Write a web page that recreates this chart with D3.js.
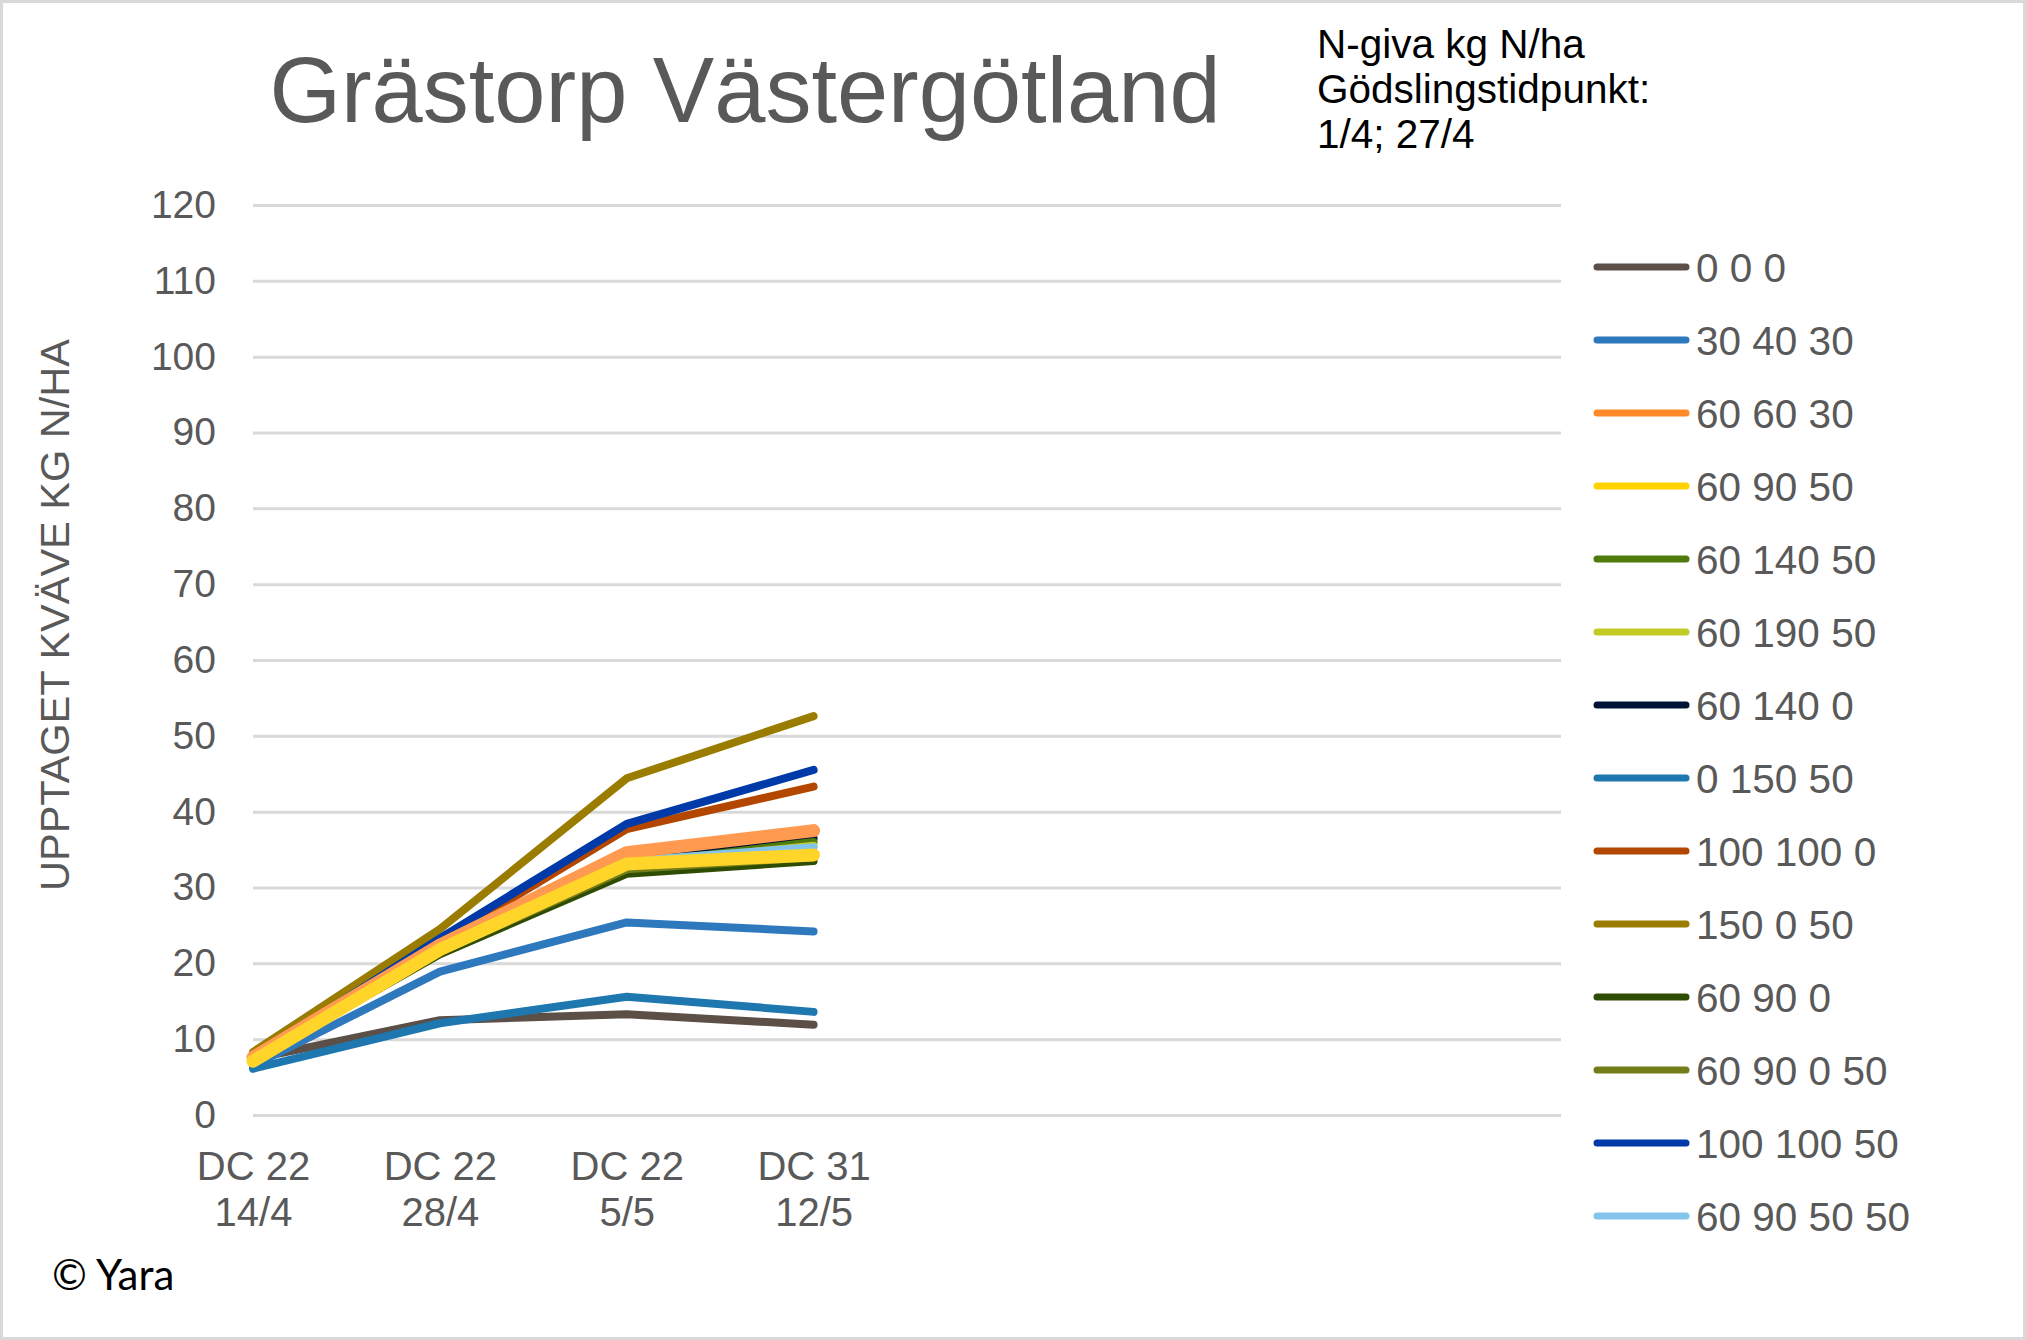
<!DOCTYPE html>
<html>
<head>
<meta charset="utf-8">
<script src="https://cdn.jsdelivr.net/npm/d3@7"></script>
<style>
  body { margin: 0; background: #fff; }
  svg { display: block; font-family: "Liberation Sans", Arial, sans-serif; }
</style>
</head>
<body>
<div id="chart"></div>
<script>
// chart values
var stages = ["DC 22", "DC 22", "DC 22", "DC 31"];
var dates = ["14/4", "28/4", "5/5", "12/5"];
var emptySlots = 4; // x axis keeps 4 unlabeled empty categories on the right
var yTicks = [0, 10, 20, 30, 40, 50, 60, 70, 80, 90, 100, 110, 120];

var seriesNames = ["0 0 0", "30 40 30", "60 60 30", "60 90 50", "60 140 50", "60 190 50",
    "60 140 0", "0 150 50", "100 100 0", "150 0 50", "60 90 0", "60 90 0 50",
    "100 100 50", "60 90 50 50"];
var seriesColors = ["#5B4F47", "#2E78BE", "#FF9A50", "#FFD52A", "#4F7A0C", "#C2CB25",
    "#001235", "#1F77B0", "#B34700", "#9A7D00", "#2E4D03", "#737D19",
    "#0039A8", "#82C4EA"];
var legendColors = ["#5B4F47", "#2E78BE", "#FF8A2A", "#FFD200", "#4F7A0C", "#C2CB25",
    "#001235", "#1F77B0", "#B34700", "#9A7D00", "#2E4D03", "#737D19",
    "#0039A8", "#82C4EA"];

var s000 = [7.4, 12.5, 13.3, 11.9];
var s304030 = [6.5, 18.9, 25.4, 24.2];
var s606030 = [7.6, 22.4, 34.6, 37.5];
var s609050 = [7.1, 21.8, 33.1, 34.3];
var s6014050 = [7.5, 22.1, 33.0, 36.0];
var s6019050 = [7.5, 22.0, 33.0, 35.5];
var s601400 = [7.5, 22.5, 33.4, 36.5];
var s015050 = [6.1, 12.1, 15.6, 13.6];
var s1001000 = [7.6, 22.8, 37.7, 43.3];
var s150050 = [8.3, 24.5, 44.4, 52.6];
var s60900 = [7.2, 21.2, 31.8, 33.5];
var s6090050 = [7.2, 21.5, 32.4, 34.0];
var s10010050 = [7.5, 23.3, 38.4, 45.5];
var s60905050 = [7.5, 22.0, 33.5, 35.3];

var seriesValues = [s000, s304030, s606030, s609050, s6014050, s6019050, s601400,
    s015050, s1001000, s150050, s60900, s6090050, s10010050, s60905050];

// page geometry
var svgWidth = 2026;
var svgHeight = 1340;
var plotLeft = 253;
var plotRight = 1561;
var plotTop = 205;
var plotBottom = 1115;

var svg = d3.select("#chart")
    .append("svg")
    .attr("width", svgWidth)
    .attr("height", svgHeight);

// outer frame
svg.append("rect")
    .attr("x", 1.5)
    .attr("y", 1.5)
    .attr("width", svgWidth - 3)
    .attr("height", svgHeight - 3)
    .attr("fill", "#fff")
    .attr("stroke", "#D9D9D9")
    .attr("stroke-width", 3);

// scales
var xDomain = d3.range(stages.length + emptySlots);
var xScale = d3.scalePoint()
    .domain(xDomain)
    .range([plotLeft, plotRight]);

var yScale = d3.scaleLinear()
    .domain([0, 120])
    .range([plotBottom, plotTop]);

// y axis with gridlines
var yAxis = svg.append("g")
    .attr("transform", `translate(${plotLeft}, 0)`)
    .call(d3.axisLeft(yScale)
        .tickValues(yTicks)
        .tickSize(-(plotRight - plotLeft))
        .tickPadding(37));
yAxis.select(".domain").remove();
yAxis.selectAll(".tick line")
    .attr("stroke", "#D9D9D9")
    .attr("stroke-width", 3);
yAxis.selectAll(".tick text")
    .attr("fill", "#595959")
    .attr("font-size", 39)
    .attr("font-family", "Liberation Sans, Arial, sans-serif");

// x axis labels (two lines)
var xAxis = svg.append("g")
    .attr("transform", `translate(0, ${plotBottom})`)
    .call(d3.axisBottom(xScale).tickSize(0).tickFormat(""));
xAxis.select(".domain").remove();
xAxis.selectAll(".tick").each(function(d) {
    if (d >= stages.length) return;
    var t = d3.select(this).append("text")
        .attr("fill", "#595959")
        .attr("font-size", 40)
        .attr("font-family", "Liberation Sans, Arial, sans-serif")
        .attr("text-anchor", "middle");
    t.append("tspan").attr("x", 0).attr("y", 65).text(stages[d]);
    t.append("tspan").attr("x", 0).attr("y", 111).text(dates[d]);
});

// lines
var line = d3.line()
    .x((d, i) => xScale(i))
    .y(d => yScale(d));

// thin lines first, the thick orange and yellow on top
var drawOrder = [0, 1, 7, 9, 8, 12, 6, 4, 5, 13, 10, 11, 2, 3];
var thick = [2, 3];

svg.append("g")
    .selectAll("path")
    .data(drawOrder)
    .enter()
    .append("path")
    .attr("d", i => line(seriesValues[i]))
    .attr("fill", "none")
    .attr("stroke", i => seriesColors[i])
    .attr("stroke-width", i => thick.indexOf(i) >= 0 ? 13 : 8)
    .attr("stroke-linecap", "round")
    .attr("stroke-linejoin", "round");

// title and notes
svg.append("text")
    .attr("x", 745)
    .attr("y", 122)
    .attr("text-anchor", "middle")
    .attr("fill", "#595959")
    .attr("font-size", 92)
    .text("Grästorp Västergötland");

var notes = ["N-giva kg N/ha", "Gödslingstidpunkt:", "1/4; 27/4"];
svg.append("g")
    .selectAll("text")
    .data(notes)
    .enter()
    .append("text")
    .attr("x", 1317)
    .attr("y", (d, i) => 58 + i * 45)
    .attr("fill", "#000")
    .attr("font-size", 40.5)
    .text(d => d);

// y axis title
svg.append("text")
    .attr("transform", "translate(69, 615) rotate(-90)")
    .attr("text-anchor", "middle")
    .attr("fill", "#595959")
    .attr("font-size", 41.5)
    .text("UPPTAGET KVÄVE KG N/HA");

// legend
var legend = svg.append("g");
var legendItems = legend.selectAll("g")
    .data(seriesNames)
    .enter()
    .append("g")
    .attr("transform", (d, i) => `translate(1597, ${267 + i * 73})`);

legendItems.append("line")
    .attr("x1", 0)
    .attr("x2", 89)
    .attr("y1", 0)
    .attr("y2", 0)
    .attr("stroke", (d, i) => legendColors[i])
    .attr("stroke-width", 7)
    .attr("stroke-linecap", "round");

legendItems.append("text")
    .attr("x", 99)
    .attr("y", 0)
    .attr("dy", "0.36em")
    .attr("fill", "#595959")
    .attr("font-size", 40.5)
    .text(d => d);

// copyright
svg.append("text")
    .attr("x", 52)
    .attr("y", 1290)
    .attr("fill", "#000")
    .attr("font-size", 42)
    .attr("font-family", "Lato, 'Open Sans', sans-serif")
    .text("© Yara");
</script>
</body>
</html>
